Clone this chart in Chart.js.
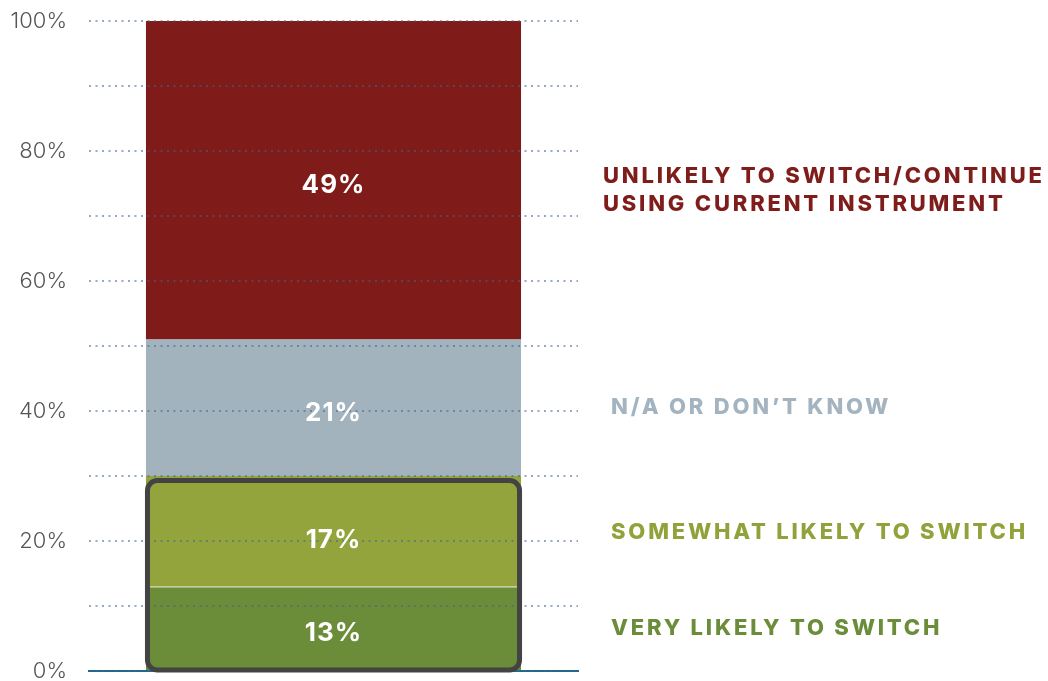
<!DOCTYPE html>
<html>
<head>
<meta charset="utf-8">
<script src="https://cdn.jsdelivr.net/npm/chart.js@4.4.1/dist/chart.umd.min.js"></script>
<style>
  html, body { margin: 0; padding: 0; background: #fff; }
  #wrap { width: 1048px; height: 681px; }
</style>
</head>
<body>
<div id="wrap"><canvas id="chart"></canvas></div>
<script>
// data
const categories = [''];
const seriesNames = [
  'VERY LIKELY TO SWITCH',
  'SOMEWHAT LIKELY TO SWITCH',
  'N/A OR DON\u2019T KNOW',
  'UNLIKELY TO SWITCH/CONTINUE|USING CURRENT INSTRUMENT'
];
const veryLikely = [13];
const somewhatLikely = [17];
const notKnow = [21];
const unlikely = [49];
const tickValues = [0, 20, 40, 60, 80, 100];

const colors = ['#6b8c38', '#92a43b', '#a3b3be', '#7f1c19'];
const labelColors = ['#6b8c38', '#8fa33a', '#a3b4c0', '#7f1d1a'];
// small nudges so the labels sit where they do in the original
const valueNudge = [4, 9, 5, 5];
const sideNudge = [0, 1, 0, 10];

// labels inside and beside the bar, plus the rounded box round the two green parts
const overlay = {
  id: 'overlay',
  afterDraw(chart) {
    const ctx = chart.ctx;
    const y = chart.scales.y;
    const bar = chart.getDatasetMeta(0).data[0];
    const left = bar.x - bar.width / 2;
    const right = bar.x + bar.width / 2;

    // outline box 0..30%
    ctx.save();
    ctx.strokeStyle = '#434343';
    ctx.lineWidth = 5;
    ctx.beginPath();
    ctx.roundRect(left + 1.5, y.getPixelForValue(30) + 4.5, right - left - 3, y.getPixelForValue(0) - y.getPixelForValue(30) - 5.5, 10);
    ctx.stroke();
    ctx.restore();

    let base = 0;
    chart.data.datasets.forEach((ds, i) => {
      const v = ds.data[0];
      const mid = y.getPixelForValue(base + v / 2);
      base += v;

      ctx.save();
      ctx.fillStyle = '#fff';
      ctx.font = '700 26px Inter';
      ctx.textAlign = 'center';
      ctx.textBaseline = 'middle';
      ctx.letterSpacing = '1px';
      ctx.fillText(v + '%', bar.x, mid + valueNudge[i]);

      ctx.fillStyle = labelColors[i];
      ctx.font = '800 22px Inter';
      ctx.letterSpacing = '2.8px';
      ctx.textAlign = 'left';
      const lines = seriesNames[i].split('|');
      const x = lines.length > 1 ? 603 : 611;
      const lh = 28;
      lines.forEach((ln, k) => {
        ctx.fillText(ln, x, mid + sideNudge[i] + (k - (lines.length - 1) / 2) * lh);
      });
      ctx.restore();
    });
  }
};

new Chart(document.getElementById('chart'), {
  type: 'bar',
  data: {
    labels: categories,
    datasets: [
      { label: seriesNames[0], data: veryLikely, backgroundColor: colors[0],
        borderColor: '#b9c792', borderWidth: { top: 1, left: 0, right: 0, bottom: 0 }, borderSkipped: false },
      { label: seriesNames[1], data: somewhatLikely, backgroundColor: colors[1], borderWidth: 0 },
      { label: seriesNames[2], data: notKnow, backgroundColor: colors[2], borderWidth: 0 },
      { label: seriesNames[3], data: unlikely, backgroundColor: colors[3], borderWidth: 0 }
    ]
  },
  options: {
    responsive: true,
    maintainAspectRatio: false,
    animation: false,
    layout: { padding: { left: 0, right: 470, top: 21, bottom: 10 } },
    plugins: { legend: { display: false }, tooltip: { enabled: false } },
    datasets: { bar: { barPercentage: 0.767, categoryPercentage: 1 } },
    scales: {
      x: {
        stacked: true,
        afterFit: (s) => { s.height = 0; s.paddingLeft = 0; s.paddingRight = 0; },
        grid: { display: false, drawTicks: false },
        ticks: { display: false },
        border: { display: true, color: '#1f6a8a', width: 2 }
      },
      y: {
        stacked: true,
        min: 0,
        max: 100,
        afterFit: (s) => { s.width = 89; s.paddingTop = 0; s.paddingBottom = 0; },
        afterBuildTicks: (s) => {
          s.ticks = [];
          for (let v = 0; v <= 100; v += 10) s.ticks.push({ value: v });
        },
        ticks: {
          padding: 22,
          color: '#555',
          font: { family: 'Inter', size: 22, weight: 300 },
          callback: (v) => tickValues.includes(v) ? v + '%' : ''
        },
        grid: {
          z: 1,
          drawTicks: false,
          color: 'rgba(60,100,145,0.55)',
          lineWidth: 2
        },
        border: { display: false, dash: [2, 4.5] }
      }
    }
  },
  plugins: [overlay]
});
</script>
</body>
</html>
